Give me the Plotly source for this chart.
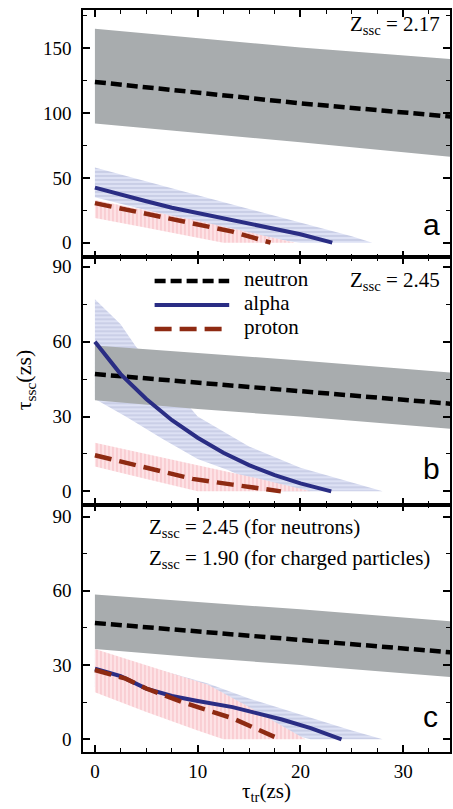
import plotly.graph_objects as go
from plotly.subplots import make_subplots

# ---------------- data ----------------
# neutron (same x sampling for all panels)
n_x = [0, 10, 20, 35]
n_line_a = [124, 115.5, 107.5, 97]
n_up_a = [165, 158, 150.5, 141.5]
n_lo_a = [92, 84.5, 77.5, 66]
n_line_bc = [47, 43.5, 40, 35]
n_up_bc = [58.5, 55.5, 52.5, 47.5]
n_lo_bc = [36.5, 33, 30, 25]

# panel a (Z_ssc = 2.17)
al_x_a = [0, 2.5, 5, 7.5, 10, 12.5, 15, 17.5, 20, 23.1]
al_y_a = [42.5, 37, 32, 27, 23, 19, 15, 10.5, 6.5, 0]
alu_x_a = [0, 5, 10, 15, 20, 25, 27]
alu_y_a = [58, 47, 36.5, 26, 15.5, 5, 0]
all_x_a = [0, 5, 10, 15, 19, 20]
all_y_a = [35, 25, 16, 7, 1, 0]
pr_x_a = [0, 4, 8.5, 13.4, 17.1]
pr_y_a = [30.5, 24, 17, 8.5, 0]
pru_x_a = [0, 5, 10, 15, 19.5]
pru_y_a = [33, 25, 17, 8, 0]
prl_x_a = [0, 5, 10, 12.5]
prl_y_a = [19, 11.5, 4, 0]

# panel b (Z_ssc = 2.45)
al_x_b = [0, 2.5, 5, 7.5, 10, 12.5, 15, 17.5, 20, 23]
al_y_b = [60, 47, 37, 28.5, 21.5, 15.5, 10.5, 6.5, 3.2, 0]
alu_x_b = [0, 2.5, 4, 7.5, 10, 15, 20, 25, 28]
alu_y_b = [77, 67, 58, 42, 30, 18, 9.5, 3.5, 0]
all_x_b = [0, 3, 6.6, 10, 13, 17, 18]
all_y_b = [37, 30, 21, 13, 8.5, 1, 0]
pr_x_b = [0, 4.6, 9.5, 13.4, 18.1]
pr_y_b = [14.5, 10, 5, 2.7, 0]
pru_x_b = [0, 5, 10, 15, 21]
pru_y_b = [19.5, 15, 10.5, 6, 0]
prl_x_b = [0, 5, 10]
prl_y_b = [10, 5, 0]

# panel c (Z_ssc = 2.45 neutrons, 1.90 charged)
al_x_c = [0, 2.5, 5, 7.5, 10, 13.4, 18.2, 21, 24]
al_y_c = [28.5, 25.5, 20.5, 17.5, 15.5, 13, 8, 4.5, 0]
alu_x_c = [0, 5, 11, 15, 20, 25, 28]
alu_y_c = [36, 29.5, 22.5, 16.5, 10, 3.5, 0]
all_x_c = [0, 5, 10, 15, 18, 21]
all_y_c = [21, 14.5, 9, 5, 3, 0]
pr_x_c = [0, 3, 5, 8.5, 13.4, 18]
pr_y_c = [28, 24.5, 20.5, 15, 8.5, 0]
pru_x_c = [0, 5, 11, 15, 20.5]
pru_y_c = [36.5, 30, 22, 13, 0]
prl_x_c = [0, 5, 10, 12.5]
prl_y_c = [19, 11, 3.5, 0]

x_ticks_major = 10
y_ranges = {1: [-11.3, 179.5], 2: [-5.33, 93.8], 3: [-5.14, 94.8]}
y_dticks = {1: 50, 2: 30, 3: 30}

# ---------------- styles ----------------
SERIF = "Liberation Serif"
SANS = "Liberation Sans"
GRAY = "#a8acae"
NAVY = "#2a2d84"
RED = "#8e2a12"
blue_pat = dict(shape="-", bgcolor="#dde1f4", fgcolor="#9ca2c8", size=4, solidity=0.3)
red_pat = dict(shape="|", bgcolor="#fde2e5", fgcolor="#f0a0aa", size=4, solidity=0.3)

fig = make_subplots(rows=3, cols=1, shared_xaxes=True, vertical_spacing=0)


def band(xu, yu, xl, yl, row, color=None, pattern=None):
    kw = dict(x=list(xu) + list(xl)[::-1], y=list(yu) + list(yl)[::-1],
              mode="lines", line=dict(width=0), fill="toself",
              hoverinfo="skip", showlegend=False)
    if pattern is not None:
        kw["fillpattern"] = pattern
        kw["fillcolor"] = pattern["bgcolor"]
    else:
        kw["fillcolor"] = color
    fig.add_trace(go.Scatter(**kw), row=row, col=1)


def line(x, y, row, color, width, dash):
    fig.add_trace(go.Scatter(x=x, y=y, mode="lines",
                             line=dict(color=color, width=width, dash=dash),
                             showlegend=False), row=row, col=1)


panels = [
    (1, n_line_a, n_up_a, n_lo_a,
     (al_x_a, al_y_a, alu_x_a, alu_y_a, all_x_a, all_y_a),
     (pr_x_a, pr_y_a, pru_x_a, pru_y_a, prl_x_a, prl_y_a)),
    (2, n_line_bc, n_up_bc, n_lo_bc,
     (al_x_b, al_y_b, alu_x_b, alu_y_b, all_x_b, all_y_b),
     (pr_x_b, pr_y_b, pru_x_b, pru_y_b, prl_x_b, prl_y_b)),
    (3, n_line_bc, n_up_bc, n_lo_bc,
     (al_x_c, al_y_c, alu_x_c, alu_y_c, all_x_c, all_y_c),
     (pr_x_c, pr_y_c, pru_x_c, pru_y_c, prl_x_c, prl_y_c)),
]

for row, nl, nu, nlo, al, pr in panels:
    band(al[2], al[3], al[4], al[5], row, pattern=blue_pat)
    band(pr[2], pr[3], pr[4], pr[5], row, pattern=red_pat)
    band(n_x, nu, n_x, nlo, row, color=GRAY)
    line(n_x, nl, row, "black", 4.5, "11px,5px")
    line(al[0], al[1], row, NAVY, 4, "solid")
    line(pr[0], pr[1], row, RED, 4.5, "17px,8px")

axis_common = dict(showline=True, linecolor="black", linewidth=1.5, mirror="ticks",
                   ticks="inside", ticklen=7, tickwidth=1.5, tickcolor="black",
                   showgrid=False, zeroline=False,
                   tickfont=dict(family=SERIF, size=19, color="black"))

for r in (1, 2, 3):
    fig.update_xaxes(range=[-1.16, 34.56], dtick=x_ticks_major, tick0=0,
                     minor=dict(ticks="inside", ticklen=4, tickwidth=1.2,
                                tickcolor="black", dtick=2.5, tick0=0, showgrid=False),
                     ticklabelstandoff=1, **axis_common, row=r, col=1)
    fig.update_yaxes(range=y_ranges[r], dtick=y_dticks[r], tick0=0,
                     minor=dict(ticks="inside", ticklen=4, tickwidth=1.2,
                                tickcolor="black", dtick=y_dticks[r] / 2, tick0=0,
                                showgrid=False),
                     ticklabelstandoff=6, **axis_common, row=r, col=1)

fig.update_layout(width=453, height=809, margin=dict(l=83, r=1, t=10, b=57),
                  plot_bgcolor="white", paper_bgcolor="white", showlegend=False,
                  font=dict(family=SERIF, size=19, color="black"))


def px(xp, yp):
    return (xp - 83) / 369.0, (752 - yp) / 742.0


def note(text, xp, yp, xanchor="left", size=21, family=SERIF, angle=0):
    x, y = px(xp, yp)
    fig.add_annotation(text=text, x=x, y=y, xref="paper", yref="paper",
                       xanchor=xanchor, yanchor="middle", showarrow=False,
                       textangle=angle,
                       font=dict(family=family, size=size, color="black"))


note("Z<sub>ssc</sub> = 2.17", 444, 25, xanchor="right")
note("Z<sub>ssc</sub> = 2.45", 444, 281, xanchor="right")
note("Z<sub>ssc</sub> = 2.45 (for neutrons)", 147, 528)
note("Z<sub>ssc</sub> = 1.90 (for charged particles)", 147, 559)
note("a", 433, 224, xanchor="center", size=30, family=SANS)
note("b", 433, 468, xanchor="center", size=30, family=SANS)
note("c", 432, 716, xanchor="center", size=30, family=SANS)
note("τ<sub>ssc</sub>(zs)", 25, 380, xanchor="center", size=22, angle=-90)
note("τ<sub>tr</sub>(zs)", 268, 792, xanchor="center", size=21)

# legend (panel b)
legend_items = [("neutron", "black", 4.5, "11px,5px", 281),
                ("alpha", NAVY, 4, "solid", 305),
                ("proton", RED, 4.5, "17px,8px", 329)]
for name, col, w, d, yp in legend_items:
    x0, y0 = px(155, yp)
    x1, _ = px(230, yp)
    fig.add_shape(type="line", xref="paper", yref="paper", x0=x0, x1=x1, y0=y0, y1=y0,
                  line=dict(color=col, width=w, dash=d))
    note(name, 243, yp - 2)

fig.write_html("out.html")
